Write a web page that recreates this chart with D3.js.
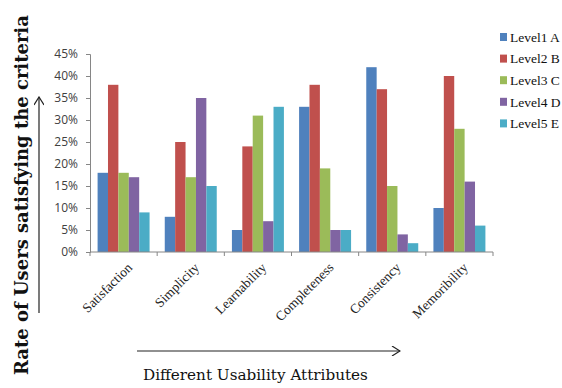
<!DOCTYPE html>
<html>
<head>
<meta charset="utf-8">
<script src="https://cdn.jsdelivr.net/npm/d3@7/dist/d3.min.js"></script>
<style>
  html, body { margin: 0; padding: 0; background: #fff; }
  svg { display: block; }
</style>
</head>
<body>
<svg id="chart" width="562" height="388"></svg>
<script>
// Usability attributes on the x axis
const categories = ["Satisfaction", "Simplicity", "Learnability", "Completeness", "Consistency", "Memoribility"];
// One series per user level (percent of users)
const seriesNames = ["Level1 A", "Level2 B", "Level3 C", "Level4 D", "Level5 E"];
const level1 = [18, 8, 5, 33, 42, 10];
const level2 = [38, 25, 24, 38, 37, 40];
const level3 = [18, 17, 31, 19, 15, 28];
const level4 = [17, 35, 7, 5, 4, 16];
const level5 = [9, 15, 33, 5, 2, 6];
const yTicks = [0, 5, 10, 15, 20, 25, 30, 35, 40, 45];
const colors = ["#4F81BD", "#C0504D", "#9BBB59", "#8064A2", "#4BACC6"];

const seriesValues = [level1, level2, level3, level4, level5];

const svg = d3.select("#chart");
const plot = { left: 90, right: 493, top: 54, bottom: 252 };

const x = d3.scaleBand()
  .domain(categories)
  .range([plot.left, plot.right])
  .paddingInner(0.226)
  .paddingOuter(0.113);

const step = x.step();

const xInner = d3.scaleBand()
  .domain(seriesNames)
  .range([0, x.bandwidth()]);

const y = d3.scaleLinear()
  .domain([0, 45])
  .range([plot.bottom, plot.top]);

// Bars
const groups = svg.append("g")
  .selectAll("g")
  .data(categories)
  .join("g")
  .attr("transform", d => `translate(${x(d)},0)`);

groups.selectAll("rect")
  .data((c, i) => seriesNames.map((s, j) => ({ s, j, v: seriesValues[j][i] })))
  .join("rect")
  .attr("x", d => xInner(d.s))
  .attr("width", xInner.bandwidth())
  .attr("y", d => y(d.v))
  .attr("height", d => plot.bottom - y(d.v))
  .attr("fill", d => colors[d.j]);

// Y axis
const yAxis = svg.append("g")
  .attr("transform", `translate(${plot.left},0)`)
  .call(d3.axisLeft(y).tickValues(yTicks).tickFormat(d => d + "%").tickSize(4).tickPadding(8));
yAxis.select(".domain").attr("stroke", "#868686");
yAxis.selectAll(".tick line").attr("stroke", "#868686");
yAxis.selectAll(".tick text")
  .attr("fill", "#404040")
  .style("font-family", "'Open Sans', 'Liberation Sans', sans-serif")
  .style("font-size", "12px");

// X axis line with ticks at category boundaries
const xAxisG = svg.append("g");
xAxisG.append("line")
  .attr("x1", plot.left).attr("x2", plot.right)
  .attr("y1", plot.bottom).attr("y2", plot.bottom)
  .attr("stroke", "#868686");
const boundaries = categories.map(c => x(c) - (step - x.bandwidth()) / 2).concat([plot.right]);
xAxisG.selectAll("line.tk")
  .data(boundaries)
  .join("line")
  .attr("class", "tk")
  .attr("x1", d => d).attr("x2", d => d)
  .attr("y1", plot.bottom).attr("y2", plot.bottom + 4)
  .attr("stroke", "#868686");

// Rotated category labels
xAxisG.selectAll("text.cat")
  .data(categories)
  .join("text")
  .attr("class", "cat")
  .attr("transform", d => `translate(${x(d) + x.bandwidth() / 2 + 6},${plot.bottom + 13}) rotate(-45)`)
  .attr("text-anchor", "end")
  .attr("dy", "0.35em")
  .attr("fill", "#222")
  .style("font-family", "'Liberation Serif', 'DejaVu Serif', serif")
  .style("font-size", "13.5px")
  .text(d => d);

// Legend
const legend = svg.append("g")
  .selectAll("g")
  .data(seriesNames)
  .join("g")
  .attr("transform", (d, i) => `translate(500,${37 + i * 21.6})`);
legend.append("rect")
  .attr("x", 0).attr("y", -4)
  .attr("width", 7).attr("height", 8)
  .attr("fill", (d, i) => colors[i]);
legend.append("text")
  .attr("x", 10)
  .attr("dy", "0.35em")
  .attr("fill", "#111")
  .style("font-family", "'Liberation Serif', 'DejaVu Serif', serif")
  .style("font-size", "13.5px")
  .text(d => d);

// Axis arrows
svg.append("defs").append("marker")
  .attr("id", "chev")
  .attr("viewBox", "0 0 10 10")
  .attr("refX", 9).attr("refY", 5)
  .attr("markerWidth", 10).attr("markerHeight", 10)
  .attr("markerUnits", "userSpaceOnUse")
  .attr("orient", "auto")
  .append("path")
  .attr("d", "M1,0 L9,5 L1,10")
  .attr("fill", "none")
  .attr("stroke", "#222")
  .attr("stroke-width", 1.2);

svg.append("line")
  .attr("x1", 39).attr("y1", 313)
  .attr("x2", 39).attr("y2", 97)
  .attr("stroke", "#222").attr("stroke-width", 1.2)
  .attr("marker-end", "url(#chev)");

svg.append("line")
  .attr("x1", 137).attr("y1", 351)
  .attr("x2", 400).attr("y2", 351)
  .attr("stroke", "#222").attr("stroke-width", 1.2)
  .attr("marker-end", "url(#chev)");

// Axis titles
const yTitle = svg.append("text")
  .attr("transform", "translate(28,375) rotate(-90)")
  .attr("text-anchor", "start")
  .attr("fill", "#111")
  .style("font-family", "'DejaVu Serif', 'Liberation Serif', serif")
  .style("font-weight", "bold")
  .style("font-size", "15px")
  .text("Rate of Users satisfying the criteria");
const yLen = yTitle.node().getComputedTextLength();
yTitle.style("font-size", (15 * 360 / yLen).toFixed(2) + "px");

const xTitle = svg.append("text")
  .attr("x", 143).attr("y", 380)
  .attr("text-anchor", "start")
  .attr("fill", "#111")
  .style("font-family", "'DejaVu Serif', 'Liberation Serif', serif")
  .style("font-size", "15px")
  .text("Different Usability Attributes");
const xLen = xTitle.node().getComputedTextLength();
xTitle.style("font-size", (15 * 225 / xLen).toFixed(2) + "px");
</script>
</body>
</html>
